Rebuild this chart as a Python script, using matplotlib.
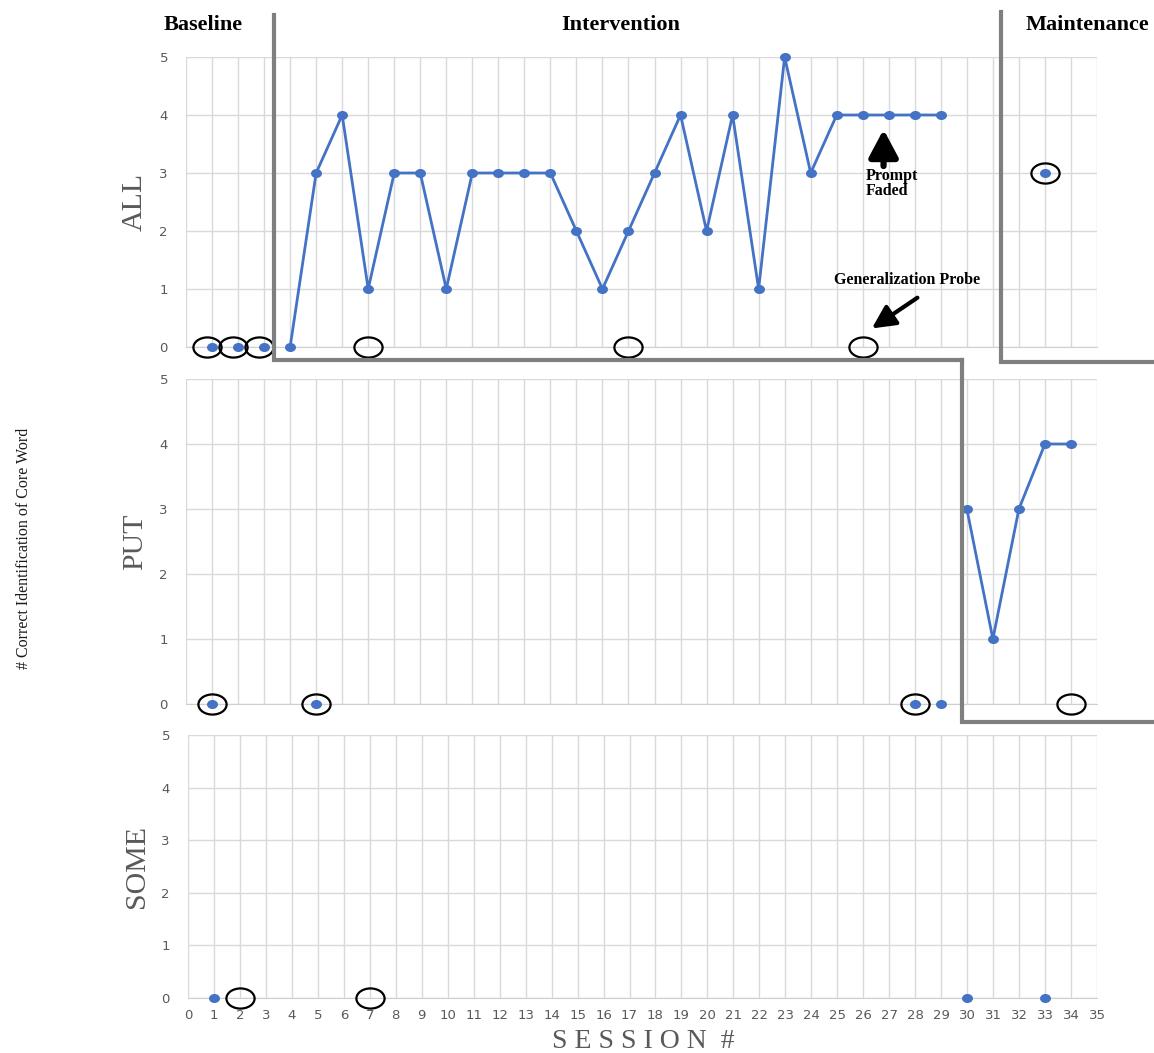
import matplotlib
matplotlib.use("Agg")
import matplotlib.pyplot as plt
from matplotlib.markers import MarkerStyle
from matplotlib.transforms import Affine2D

# ---------- data ----------
sessions = list(range(0, 36))
y_ticks = [0, 1, 2, 3, 4, 5]

# ALL
all_base_x = [1, 2, 3]
all_base_y = [0, 0, 0]
all_int_x = list(range(4, 30))
all_int_y = [0, 3, 4, 1, 3, 3, 1, 3, 3, 3, 3, 2, 1, 2, 3, 4, 2, 4, 1, 5, 3, 4, 4, 4, 4, 4]
all_maint_x = [33]
all_maint_y = [3]
all_probe_x = [0.8, 1.8, 2.8, 7, 17, 26, 33]
all_probe_y = [0, 0, 0, 0, 0, 0, 3]

# PUT
put_base_x = [1, 5, 28, 29]
put_base_y = [0, 0, 0, 0]
put_int_x = [30, 31, 32, 33, 34]
put_int_y = [3, 1, 3, 4, 4]
put_probe_x = [1, 5, 28, 34]
put_probe_y = [0, 0, 0, 0]

# SOME
some_base_x = [1, 30, 33]
some_base_y = [0, 0, 0]
some_probe_x = [2, 7]
some_probe_y = [0, 0]

BLUE = "#4472C4"
GRID = "#d9d9d9"
TXT = "#595959"
PHASE = "#7f7f7f"
SERIF = "Liberation Serif"

W, H = 1154, 1053
fig = plt.figure(figsize=(W / 100, H / 100), dpi=100)

def px_axes(left, right, top, bottom):
    return fig.add_axes([left / W, 1 - bottom / H, (right - left) / W, (bottom - top) / H])

ax1 = px_axes(186, 1097, 57, 347)
ax2 = px_axes(186, 1097, 379, 704)
ax3 = px_axes(188, 1097, 735, 998)

oval = MarkerStyle("o", fillstyle="none", transform=Affine2D().scale(1.4, 1.0))
dot = MarkerStyle("o", transform=Affine2D().scale(1.25, 1.0))

def base_style(ax, show_x):
    ax.set_xlim(0, 35)
    ax.set_ylim(0, 5)
    ax.set_xticks(sessions)
    ax.set_yticks(y_ticks)
    ax.grid(True, color=GRID, lw=1)
    ax.set_axisbelow(True)
    for s in ["top", "right", "left"]:
        ax.spines[s].set_visible(False)
    ax.spines["bottom"].set_color("#cfcfcf")
    ax.tick_params(length=0, labelsize=9.5, labelcolor=TXT, pad=13)
    ax.tick_params(axis="x", pad=8, labelbottom=show_x)

def dots(ax, x, y, line=False):
    ax.plot(x, y, marker=dot, ms=5.5, color=BLUE, lw=2 if line else 0,
            clip_on=False, zorder=3)

def probes(ax, x, y):
    ax.plot(x, y, ls="none", marker=oval, ms=14.5, mec="black", mew=1.6,
            clip_on=False, zorder=4)

for ax in (ax1, ax2, ax3):
    base_style(ax, ax is ax3)

# ALL
dots(ax1, all_base_x, all_base_y)
dots(ax1, all_int_x, all_int_y, line=True)
dots(ax1, all_maint_x, all_maint_y)
probes(ax1, all_probe_x, all_probe_y)

# PUT
dots(ax2, put_base_x, put_base_y)
dots(ax2, put_int_x, put_int_y, line=True)
probes(ax2, put_probe_x, put_probe_y)

# SOME
dots(ax3, some_base_x, some_base_y)
probes(ax3, some_probe_x, some_probe_y)

# phase change lines (stepped)
pk = dict(color=PHASE, lw=3, clip_on=False, zorder=5, solid_joinstyle="miter")
ax1.plot([3.4, 3.4, 29.8], [5.72, -0.22, -0.22], **pk)
ax2.plot([29.8, 29.8, 37.5], [5.29, -0.28, -0.28], **pk)
ax1.plot([31.3, 31.3, 37.5], [5.78, -0.26, -0.26], **pk)

# phase labels
lab_kw = dict(va="center", fontsize=16, fontweight="bold", family=SERIF, clip_on=False)
ax1.text(0.65, 5.55, "Baseline", ha="center", **lab_kw)
ax1.text(16.7, 5.55, "Intervention", ha="center", **lab_kw)
ax1.text(32.25, 5.55, "Maintenance", ha="left", **lab_kw)

# annotations
ax1.annotate("", xy=(26.8, 3.75), xytext=(26.8, 3.12),
             arrowprops=dict(arrowstyle="-|>,head_width=0.4,head_length=0.75",
                             mutation_scale=22, color="black", lw=4.5,
                             shrinkA=0, shrinkB=0))
ax1.text(26.1, 3.08, "Prompt\nFaded", ha="left", va="top", fontsize=11.5,
         fontweight="bold", family=SERIF, linespacing=0.9)
ax1.text(27.7, 1.16, "Generalization Probe", ha="center", va="center",
         fontsize=11.5, fontweight="bold", family=SERIF)
ax1.annotate("", xy=(26.35, 0.32), xytext=(28.1, 0.85),
             arrowprops=dict(arrowstyle="-|>,head_width=0.35,head_length=0.7",
                             mutation_scale=20, color="black", lw=3,
                             shrinkA=0, shrinkB=0))

# row labels
for ax, lab in ((ax1, "ALL"), (ax2, "PUT"), (ax3, "SOME")):
    ax.text(-0.056, 0.5, lab, transform=ax.transAxes, rotation=90,
            ha="center", va="center", fontsize=21.5, color=TXT, family=SERIF)

fig.text(24 / W, 1 - 548 / H, "# Correct Identification of Core Word",
         rotation=90, ha="center", va="center", fontsize=11.5,
         color="#1a1a1a", family=SERIF)
fig.text(643 / W, 1 - 1042 / H, "S E S S I O N  #", ha="center", va="center",
         fontsize=20, color=TXT, family=SERIF)

fig.savefig("out.png", dpi=100)
